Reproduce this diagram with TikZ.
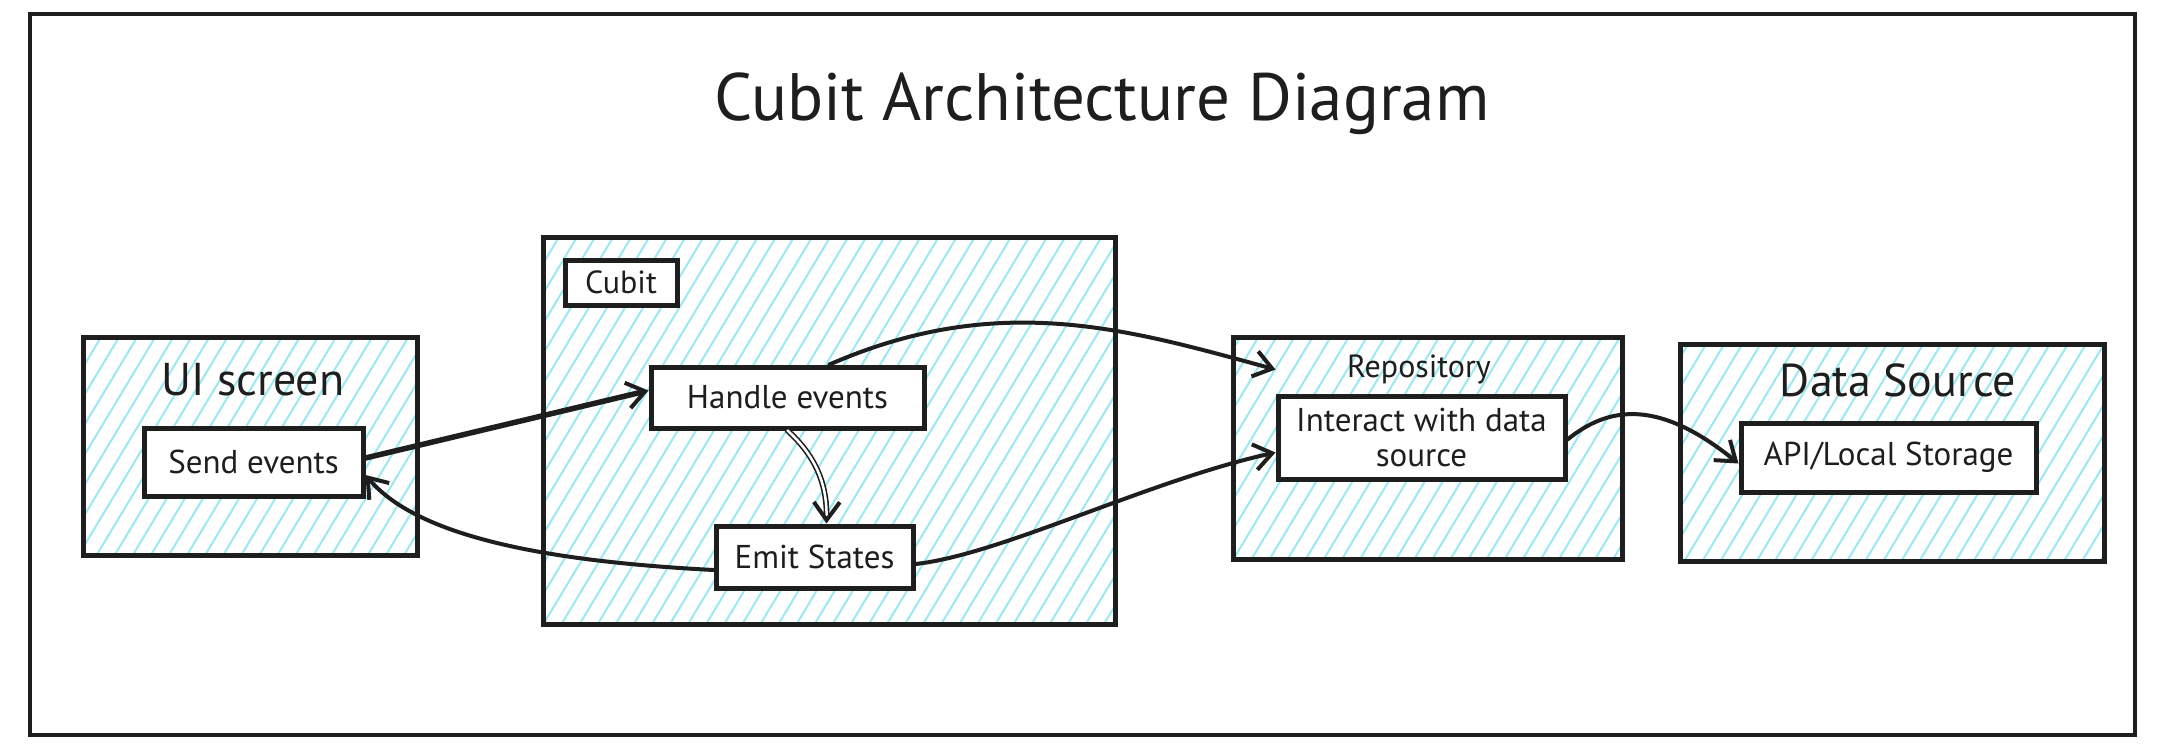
\documentclass[tikz,border=0pt]{standalone}
\usepackage{fontspec}
\setmainfont{PT Sans}
\usetikzlibrary{patterns.meta,arrows.meta}
\definecolor{hatch}{RGB}{153,233,242}
\definecolor{ink}{RGB}{30,30,30}
\begin{document}
\begin{tikzpicture}[x=1pt,y=-1pt,
  group/.style={draw=ink, line width=5pt, inner sep=0pt,
    pattern={Lines[angle=59,distance=15.5pt,line width=2pt]}, pattern color=hatch},
  item/.style={draw=ink, line width=5pt, fill=white, inner sep=0pt, align=center,
    font=\fontsize{33}{35}\selectfont, text=ink},
  gtitle/.style={font=\fontsize{46}{52}\selectfont, text=ink, inner sep=0pt},
  conn/.style={draw=ink, line width=4pt, line cap=round,
    -{Straight Barb[length=18pt,width=26pt,line width=4pt]}}]
\useasboundingbox (0,0) rectangle (2166,746);
\fill[white] (0,0) rectangle (2166,746);
% frame
\node[draw=ink, line width=4.5pt, minimum width=2105pt, minimum height=721pt, inner sep=0pt] (frame) at (1082.5,374.5) {};
\node[font=\fontsize{67}{74}\selectfont, text=ink, inner sep=0pt] (title) at (1102,104) {Cubit Architecture Diagram};
% groups
\node[group, minimum width=334pt, minimum height=218pt] (ui) at (250,446) {};
\node[group, minimum width=572pt, minimum height=386pt] (cubit) at (829,431) {};
\node[group, minimum width=389pt, minimum height=222pt] (repo) at (1427.5,448) {};
\node[group, minimum width=424pt, minimum height=217pt] (ds) at (1892,452.5) {};
% group titles
\node[gtitle] (uititle) at (253,380) {UI screen};
\node[gtitle] (dstitle) at (1898,380) {Data Source};
\node[text=ink, inner sep=0pt, font=\fontsize{32}{36}\selectfont] (repotitle) at (1419,369) {Repository};
% items
\node[item, minimum width=112pt, minimum height=45pt, font=\fontsize{32}{36}\selectfont] (cubitlbl) at (621,282.5) {Cubit};
\node[item, minimum width=219pt, minimum height=68pt] (send) at (253.5,462) {Send events};
\node[item, minimum width=273pt, minimum height=61pt] (handle) at (787.5,397.5) {Handle events};
\node[item, minimum width=197pt, minimum height=62pt] (emit) at (814.5,557) {Emit States};
\node[item, minimum width=287pt, minimum height=83pt] (interact) at (1421.5,437.5) {Interact with data\\source};
\node[item, minimum width=295pt, minimum height=69pt] (api) at (1888.5,457.5) {API/Local Storage};
% connectors
\draw[conn, line width=5.5pt] ([yshift=4pt]send.east) -- ([yshift=7pt]handle.west);
\draw[conn] ([yshift=-13pt]emit.west) .. controls (560,562) and (420,540) .. ([yshift=-13pt]send.east);
\draw[conn, double=white, double distance=2.5pt, line width=1.6pt] ([xshift=0pt]handle.south) .. controls (820,460) and (827,490) .. ([xshift=12pt]emit.north);
\draw[conn] ([xshift=42pt]handle.north) .. controls (1000,290) and (1130,330) .. ([yshift=24pt]interact.north west);
\draw[conn] ([yshift=-7pt]emit.east) .. controls (1000,555) and (1150,480) .. ([yshift=-15pt]interact.west);
\draw[conn] ([yshift=-2pt]interact.east) .. controls (1610,405) and (1660,400) .. ([yshift=-6pt]api.west);
\end{tikzpicture}
\end{document}
